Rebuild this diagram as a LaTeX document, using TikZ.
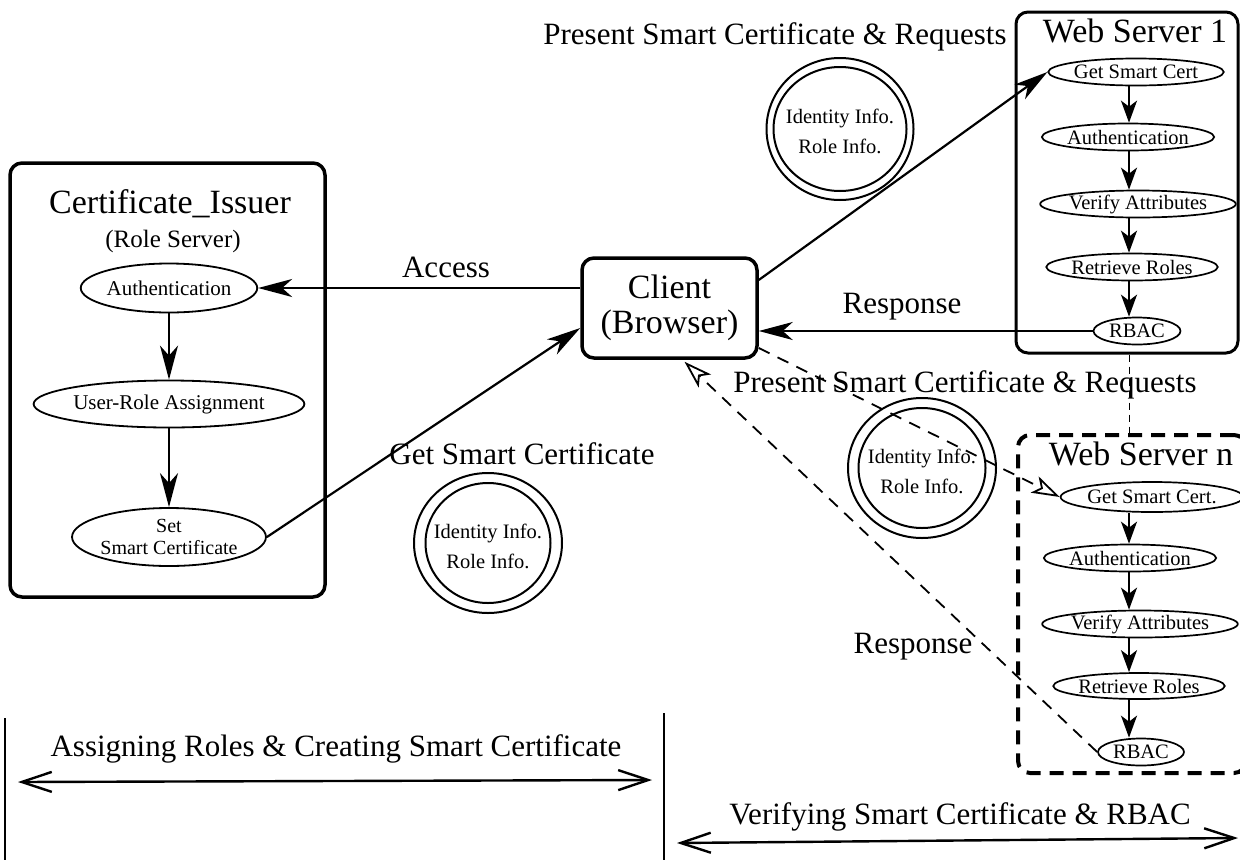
\documentclass[tikz,border=0pt]{standalone}
\usepackage{fontspec}
\setmainfont{Liberation Serif}
\usetikzlibrary{shapes.geometric,arrows.meta,calc}
\begin{document}
\begin{tikzpicture}[x=1pt,y=-1pt,
  lbl/.style={anchor=base,inner sep=0pt,font=\fontsize{31}{36}\selectfont},
  ttl/.style={anchor=base,inner sep=0pt,font=\fontsize{34}{40}\selectfont},
  procA/.style={ellipse,draw,line width=1.8pt,inner sep=0pt,align=center,font=\fontsize{21}{17}\selectfont},
  procB/.style={ellipse,draw,line width=1.7pt,inner sep=0pt,font=\fontsize{20.5}{22}\selectfont},
  boxA/.style={draw,rounded corners=12pt,line width=3.5pt,inner sep=0pt},
  ring/.style={ellipse,draw,line width=2pt,inner sep=0pt},
  ringtext/.style={inner sep=0pt,align=center,font=\fontsize{20.5}{30}\selectfont},
  bigarr/.style={line width=2.2pt,-{Stealth[length=34pt,width=18pt,inset=10pt]}},
  smallarr/.style={line width=2.2pt,-{Stealth[length=22pt,width=16pt,inset=6pt]}},
  dasharr/.style={line width=1.8pt,dash pattern=on 12pt off 9pt,-{Stealth[open,length=28pt,width=18pt,inset=7pt]}},
  spanarr/.style={line width=2.4pt,{Straight Barb[length=30pt,width=20pt]}-{Straight Barb[length=30pt,width=20pt]}}
]
\useasboundingbox (0,0) rectangle (1240,860);

% ---------- boxes ----------
\node[boxA,minimum width=315pt,minimum height=434pt] (ci) at (167.5,380) {};
\node[boxA,minimum width=175pt,minimum height=100pt,align=center,
      font=\fontsize{34}{35}\selectfont] (client) at (669.5,308) {Client\\(Browser)};
\node[boxA,line width=3pt,minimum width=222pt,minimum height=341pt] (ws1) at (1127,182.5) {};
\node[draw,rounded corners=12pt,line width=4pt,dash pattern=on 14pt off 9pt,inner sep=0pt,
      minimum width=228pt,minimum height=338pt] (wsn) at (1132,604) {};

% ---------- titles ----------
\node[ttl] (citl) at (170,213) {Certificate\_Issuer};
\node[anchor=base,inner sep=0pt,font=\fontsize{25}{30}\selectfont] (cisub) at (173,247) {(Role Server)};
\node[ttl] (ws1tl) at (1135,42) {Web Server 1};
\node[ttl] (wsntl) at (1141,465) {Web Server n};

% ---------- Certificate issuer processes ----------
\node[procA,minimum width=175pt,minimum height=49pt] (auth1) at (169,288) {Authentication};
\node[procA,minimum width=262pt,minimum height=47pt] (ura) at (169,404) {User-Role Assignment};
\node[procA,minimum width=160pt,minimum height=58pt,font=\fontsize{20}{22}\selectfont] (setsc) at (169,537) {Set\\Smart Certificate};
\draw[bigarr] (auth1) -- (ura);
\draw[bigarr] (ura) -- (setsc);

% ---------- Web server 1 processes ----------
\coordinate (ax1) at (1129,0);
\node[procB,minimum width=140pt,minimum height=27pt] (g1) at (1136,72) {Get Smart Cert};
\node[procB,minimum width=157pt,minimum height=27pt] (a1) at (1128,137) {Authentication};
\node[procB,minimum width=171pt,minimum height=27pt] (v1) at (1138,204) {Verify Attributes};
\node[procB,minimum width=148pt,minimum height=27pt] (r1) at (1132,267) {Retrieve Roles};
\node[procB,minimum width=87pt,minimum height=27pt] (b1) at (1137,331) {RBAC};
\draw[smallarr] (g1.south -| ax1) -- (a1.north -| ax1);
\draw[smallarr] (a1.south -| ax1) -- (v1.north -| ax1);
\draw[smallarr] (v1.south -| ax1) -- (r1.north -| ax1);
\draw[smallarr] (r1.south -| ax1) -- (b1.north -| ax1);

% ---------- Web server n processes ----------
\node[procB,minimum width=148pt,minimum height=30pt] (gn) at (1152,497) {Get Smart Cert.};
\node[procB,minimum width=157pt,minimum height=27pt] (an) at (1130,558) {Authentication};
\node[procB,minimum width=171pt,minimum height=27pt] (vn) at (1140,624) {Verify Attributes};
\node[procB,minimum width=158pt,minimum height=26pt] (rn) at (1139,686) {Retrieve Roles};
\node[procB,minimum width=86pt,minimum height=27pt] (bn) at (1141,752) {RBAC};
\draw[smallarr] (gn.south -| ax1) -- (an.north -| ax1);
\draw[smallarr] (an.south -| ax1) -- (vn.north -| ax1);
\draw[smallarr] (vn.south -| ax1) -- (rn.north -| ax1);
\draw[smallarr] (rn.south -| ax1) -- (bn.north -| ax1);

% thin dashed link between the servers
\draw[line width=1pt,dash pattern=on 7pt off 5pt] (ws1.south -| ax1) -- (wsn.north -| ax1);

% ---------- certificate tokens ----------
\node[ring,minimum width=147pt,minimum height=142pt] (t1o) at (840,129) {};
\node[ring,minimum width=133pt,minimum height=124pt] (t1i) at (840,129) {};
\node[ringtext] (t1t) at (840,131) {Identity Info.\\Role Info.};

\node[ring,minimum width=148pt,minimum height=140pt] (t2o) at (922,468) {};
\node[ring,minimum width=127pt,minimum height=120pt] (t2i) at (922,468) {};
\node[ringtext] (t2t) at (922,471) {Identity Info.\\Role Info.};

\node[ring,minimum width=148pt,minimum height=140pt] (t3o) at (488,543) {};
\node[ring,minimum width=125pt,minimum height=120pt] (t3i) at (488,543) {};
\node[ringtext] (t3t) at (488,546) {Identity Info.\\Role Info.};

% ---------- connectors ----------
\draw[bigarr] (client.west |- auth1.east) -- (auth1.east);
\draw[bigarr] (setsc.east) -- ($(client.west)+(0,20)$);
\draw[bigarr] ($(client.east)+(0,-28)$) -- (g1.west);
\draw[bigarr] (b1.west) -- (client.east |- b1.west);
\draw[dasharr] ($(client.east)+(0,40)$) -- (gn.west);
\draw[dasharr] (bn.west) -- ($(client.south)+(15,2)$);

% ---------- labels ----------
\node[lbl] (lpres1) at (775,44) {Present Smart Certificate \& Requests};
\node[lbl] (lacc) at (446,277) {Access};
\node[lbl] (lresp1) at (902,313) {Response};
\node[lbl] (lpres2) at (965,392) {Present Smart Certificate \& Requests};
\node[lbl] (lget) at (522,464) {Get Smart Certificate};
\node[lbl] (lresp2) at (913,653) {Response};

% ---------- phases ----------
\coordinate (v1t) at (5,718);
\coordinate (v1b) at (5,860);
\coordinate (v2t) at (664,713);
\coordinate (v2b) at (664,860);
\draw[line width=2pt] (v1t) -- (v1b);
\draw[line width=2pt] (v2t) -- (v2b);
\coordinate (pAl) at (18,782);
\coordinate (pAr) at (652,780);
\coordinate (pBl) at (677,843);
\coordinate (pBr) at (1238,838);
\draw[spanarr] (pAl) -- (pAr);
\draw[spanarr] (pBl) -- (pBr);
\node[lbl] (lassign) at (336,756) {Assigning Roles \& Creating Smart Certificate};
\node[lbl] (lverify) at (960,824) {Verifying Smart Certificate \& RBAC};
\end{tikzpicture}
\end{document}
